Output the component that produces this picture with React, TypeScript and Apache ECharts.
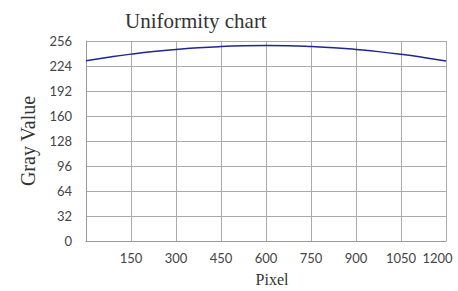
import React, { useEffect, useRef } from "react";
import * as echarts from "echarts";

const pixels = [0, 75, 150, 225, 300, 375, 450, 525, 600, 675, 750, 825, 900, 975, 1050, 1125, 1200];
const grayValues = [230.8, 235.2, 239.2, 242.6, 245.2, 247.4, 248.9, 249.8, 250.1, 249.9, 249.0, 247.5, 245.1, 242.4, 239.0, 235.0, 230.5];

export default function App() {
  const ref = useRef<HTMLDivElement>(null);
  useEffect(() => {
    if (!ref.current) return;
    const chart = echarts.init(ref.current, null, { renderer: "svg" });
    const tickFont = { fontFamily: "Lato", fontSize: 13, color: "#444" };
    chart.setOption({
      animation: false,
      backgroundColor: "#fff",
      title: {
        text: "Uniformity chart",
        left: 120,
        top: 5,
        textStyle: { fontFamily: "Liberation Serif", fontSize: 21, fontWeight: "normal", color: "#333" },
      },
      grid: { left: 86, right: 12, top: 41, bottom: 50, outerBoundsMode: "none", containLabel: false },
      xAxis: {
        type: "value",
        min: 0,
        max: 1200,
        interval: 150,
        name: "Pixel",
        nameLocation: "middle",
        nameGap: 30,
        nameTextStyle: { fontFamily: "Liberation Serif", fontSize: 16, color: "#333", padding: [0, 0, 0, 12] },
        axisLine: { lineStyle: { color: "#999", width: 1 } },
        axisTick: { show: false },
        axisLabel: {
          ...tickFont,
          margin: 10,
          showMinLabel: false,
          formatter: (v: number) => (v === 1200 ? "{m|1200}" : String(v)),
          rich: { m: { ...tickFont, padding: [0, 17, 0, 0] } },
        },
        splitLine: { show: true, lineStyle: { color: "#aaa", width: 1 } },
      },
      yAxis: {
        type: "value",
        min: 0,
        max: 256,
        interval: 32,
        name: "Gray Value",
        nameLocation: "middle",
        nameGap: 42,
        nameTextStyle: { fontFamily: "Liberation Serif", fontSize: 20, color: "#333", padding: [0, 0, 6, 0] },
        axisLine: { show: true, lineStyle: { color: "#999", width: 1 } },
        axisTick: { show: false },
        axisLabel: { ...tickFont, margin: 14, formatter: (v: number) => String(v) },
        splitLine: { show: true, lineStyle: { color: "#aaa", width: 1 } },
      },
      series: [
        {
          type: "line",
          data: pixels.map((p, i) => [p, grayValues[i]]),
          smooth: true,
          showSymbol: false,
          lineStyle: { color: "#1f2690", width: 1.5 },
        },
      ],
    });
    return () => chart.dispose();
  }, []);
  return <div ref={ref} style={{ position: "fixed", left: 0, top: 0, width: 458, height: 291 }} />;
}
